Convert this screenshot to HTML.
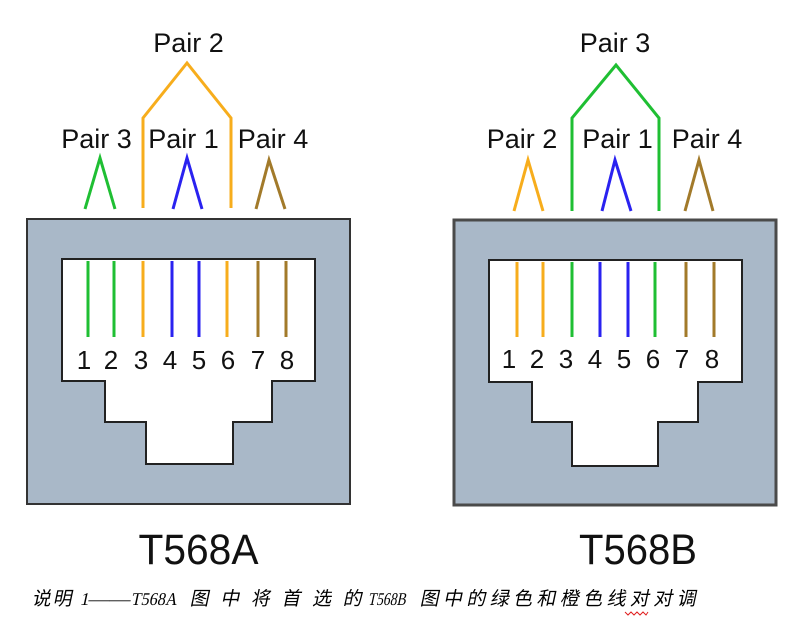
<!DOCTYPE html>
<html>
<head>
<meta charset="utf-8">
<style>
  html, body { margin:0; padding:0; background:#fff; }
  svg { display:block; }
  .lbl { font-family:"Liberation Sans", Arial, sans-serif; font-size:27px; fill:#111; }
  .num { font-family:"Liberation Sans", Arial, sans-serif; font-size:26px; fill:#111; }
  .big { font-family:"Liberation Sans", Arial, sans-serif; font-size:43px; fill:#111; }
  .cap { font-family:"Noto Sans CJK SC", "WenQuanYi Zen Hei", sans-serif; font-size:19px; font-weight:normal; fill:#000; }
  .capl { font-family:"Liberation Serif", serif; font-size:18px; fill:#000; }
</style>
</head>
<body>
<svg width="800" height="627" viewBox="0 0 800 627" xmlns="http://www.w3.org/2000/svg">
  <rect width="800" height="627" fill="#fff"/>

  <!-- ===================== LEFT: T568A ===================== -->
  <rect x="27" y="219" width="323" height="285" fill="#a9b8c8" stroke="#333" stroke-width="2"/>
  <polygon points="62,259 315,259 315,381 272,381 272,422 233,422 233,464 146,464 146,422 105,422 105,381 62,381"
           fill="#fff" stroke="#222" stroke-width="2"/>
  <g stroke-width="3" fill="none">
    <line x1="88" y1="261" x2="88" y2="337" stroke="#1fbf33"/>
    <line x1="114" y1="261" x2="114" y2="337" stroke="#1fbf33"/>
    <line x1="143" y1="261" x2="143" y2="337" stroke="#f7ad1c"/>
    <line x1="172" y1="261" x2="172" y2="337" stroke="#2a22f0"/>
    <line x1="199" y1="261" x2="199" y2="337" stroke="#2a22f0"/>
    <line x1="227" y1="261" x2="227" y2="337" stroke="#f7ad1c"/>
    <line x1="258" y1="261" x2="258" y2="337" stroke="#a27a2a"/>
    <line x1="286" y1="261" x2="286" y2="337" stroke="#a27a2a"/>
  </g>
  <g class="num" text-anchor="middle">
    <text x="84" y="369">1</text>
    <text x="111" y="369">2</text>
    <text x="141" y="369">3</text>
    <text x="170" y="369">4</text>
    <text x="199" y="369">5</text>
    <text x="228" y="369">6</text>
    <text x="258" y="369">7</text>
    <text x="287" y="369">8</text>
  </g>
  <g stroke-width="3" fill="none" stroke-linejoin="miter">
    <polyline points="85,209 100,158 115,209" stroke="#1fbf33"/>
    <polyline points="173,209 187,158 202,209" stroke="#2a22f0"/>
    <polyline points="256,209 269,160 285,209" stroke="#a27a2a"/>
    <polyline points="143,208 143,118 187,63 231,118 231,208" stroke="#f7ad1c"/>
  </g>
  <g class="lbl" text-anchor="middle">
    <text x="188.5" y="52">Pair 2</text>
    <text x="96.5" y="148">Pair 3</text>
    <text x="183.5" y="148">Pair 1</text>
    <text x="273" y="148">Pair 4</text>
  </g>
  <text class="big" x="198.5" y="564" text-anchor="middle" textLength="120" lengthAdjust="spacingAndGlyphs">T568A</text>

  <!-- ===================== RIGHT: T568B ===================== -->
  <rect x="454" y="220" width="322" height="285" fill="#a9b8c8" stroke="#4a4a4a" stroke-width="3"/>
  <polygon points="489,260 742,260 742,382 698,382 698,422 658,422 658,466 572,466 572,422 532,422 532,382 489,382"
           fill="#fff" stroke="#222" stroke-width="2"/>
  <g stroke-width="3" fill="none">
    <line x1="517" y1="262" x2="517" y2="337" stroke="#f7ad1c"/>
    <line x1="543" y1="262" x2="543" y2="337" stroke="#f7ad1c"/>
    <line x1="572" y1="262" x2="572" y2="337" stroke="#1fbf33"/>
    <line x1="600" y1="262" x2="600" y2="337" stroke="#2a22f0"/>
    <line x1="628" y1="262" x2="628" y2="337" stroke="#2a22f0"/>
    <line x1="655" y1="262" x2="655" y2="337" stroke="#1fbf33"/>
    <line x1="686" y1="262" x2="686" y2="337" stroke="#a27a2a"/>
    <line x1="714" y1="262" x2="714" y2="337" stroke="#a27a2a"/>
  </g>
  <g class="num" text-anchor="middle">
    <text x="509" y="368">1</text>
    <text x="537" y="368">2</text>
    <text x="566" y="368">3</text>
    <text x="595" y="368">4</text>
    <text x="624" y="368">5</text>
    <text x="653" y="368">6</text>
    <text x="682" y="368">7</text>
    <text x="712" y="368">8</text>
  </g>
  <g stroke-width="3" fill="none" stroke-linejoin="miter">
    <polyline points="514,211 528,160 543,211" stroke="#f7ad1c"/>
    <polyline points="602,211 615,160 631,211" stroke="#2a22f0"/>
    <polyline points="685,211 699,160 713,211" stroke="#a27a2a"/>
    <polyline points="572,211 572,118 616,65 659,118 659,211" stroke="#1fbf33"/>
  </g>
  <g class="lbl" text-anchor="middle">
    <text x="615" y="52">Pair 3</text>
    <text x="522" y="148">Pair 2</text>
    <text x="617.5" y="148">Pair 1</text>
    <text x="707" y="148">Pair 4</text>
  </g>
  <text class="big" x="638" y="564" text-anchor="middle" textLength="118" lengthAdjust="spacingAndGlyphs">T568B</text>

  <!-- ===================== CAPTION ===================== -->
  <g transform="translate(128.2,0) skewX(-12)">
    <text class="cap" x="32" y="605" textLength="40" lengthAdjust="spacing">说明</text>
    <text class="capl" x="80" y="605">1</text>
    <text class="capl" x="88" y="605" textLength="42" lengthAdjust="spacingAndGlyphs">——</text>
    <text class="capl" x="131" y="605" textLength="46" lengthAdjust="spacingAndGlyphs">T568A</text>
    <text class="cap" x="190" y="605" textLength="172" lengthAdjust="spacing">图中将首选的</text>
    <text class="capl" x="368" y="605" textLength="38" lengthAdjust="spacingAndGlyphs">T568B</text>
    <text class="cap" x="420" y="605" textLength="276" lengthAdjust="spacing">图中的绿色和橙色线对对调</text>
  </g>
  <polyline points="625,612 628,615 631,612 634,615 637,612 640,615 643,612 646,615 648,612"
            fill="none" stroke="#e02020" stroke-width="1"/>
</svg>
</body>
</html>
